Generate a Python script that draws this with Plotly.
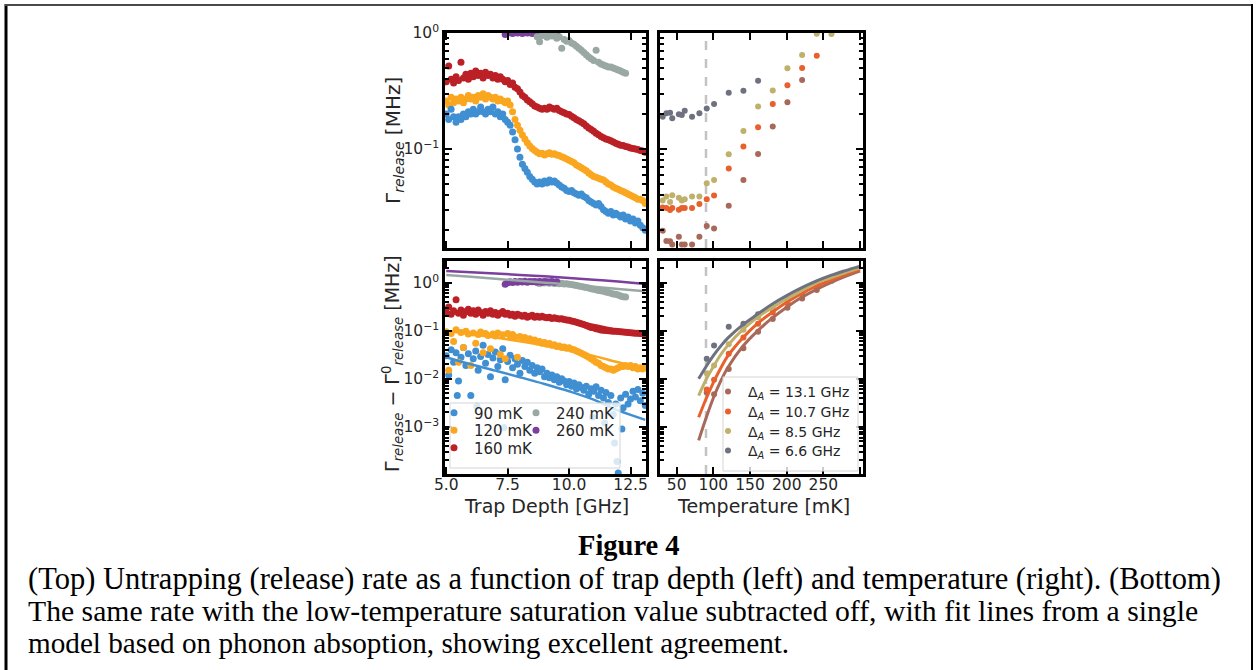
import plotly.graph_objects as go

# ---------------- data ----------------
trap_depth = [5.0, 5.1, 5.2, 5.3, 5.4, 5.5, 5.6, 5.7, 5.8, 5.9,
              6.0, 6.1, 6.2, 6.3, 6.4, 6.5, 6.6, 6.7, 6.8, 6.9,
              7.0, 7.1, 7.2, 7.3, 7.4, 7.5, 7.6, 7.7, 7.8, 7.9,
              8.0, 8.1, 8.2, 8.3, 8.4, 8.5, 8.6, 8.7, 8.8, 8.9,
              9.0, 9.1, 9.2, 9.3, 9.4, 9.5, 9.6, 9.7, 9.8, 9.9,
              10.0, 10.1, 10.2, 10.3, 10.4, 10.5, 10.6, 10.7, 10.8, 10.9,
              11.0, 11.1, 11.2, 11.3, 11.4, 11.5, 11.6, 11.7, 11.8, 11.9,
              12.0, 12.1, 12.2, 12.3, 12.4, 12.5, 12.6, 12.7, 12.8, 12.9,
              13.0, 13.1]

rate_90mK = [0.20, 0.18, 0.22, 0.19, 0.17, 0.19, 0.18, 0.20, 0.19, 0.21,
             0.20, 0.22, 0.20, 0.21, 0.23, 0.21, 0.20, 0.22, 0.21, 0.23,
             0.20, 0.21, 0.19, 0.20, 0.18, 0.17, 0.16, 0.14, 0.12, 0.10,
             0.085, 0.074, 0.068, 0.063, 0.058, 0.055, 0.052, 0.050, 0.052, 0.050,
             0.053, 0.051, 0.054, 0.052, 0.053, 0.051, 0.049, 0.047, 0.046, 0.044,
             0.043, 0.044, 0.042, 0.041, 0.040, 0.041, 0.039, 0.038, 0.036, 0.035,
             0.034, 0.033, 0.034, 0.032, 0.030, 0.029, 0.028, 0.029, 0.027, 0.028,
             0.027, 0.026, 0.027, 0.025, 0.026, 0.024, 0.025, 0.023, 0.024, 0.022,
             0.021, 0.020]

rate_120mK = [0.26, 0.24, 0.28, 0.25, 0.27, 0.26, 0.28, 0.25, 0.27, 0.29,
              0.27, 0.28, 0.26, 0.29, 0.28, 0.30, 0.27, 0.29, 0.28, 0.27,
              0.28, 0.26, 0.27, 0.26, 0.25, 0.26, 0.24, 0.21, 0.18, 0.16,
              0.145, 0.132, 0.122, 0.113, 0.106, 0.101, 0.097, 0.094, 0.091, 0.092,
              0.089, 0.091, 0.093, 0.090, 0.091, 0.089, 0.088, 0.086, 0.084, 0.082,
              0.080, 0.078, 0.076, 0.073, 0.071, 0.069, 0.067, 0.065, 0.062, 0.060,
              0.058, 0.057, 0.056, 0.055, 0.054, 0.052, 0.050, 0.049, 0.047, 0.046,
              0.045, 0.044, 0.043, 0.042, 0.041, 0.040, 0.039, 0.038, 0.037, 0.037,
              0.036, 0.034]

rate_160mK = [0.38, 0.52, 0.40, 0.37, 0.42, 0.39, 0.56, 0.41, 0.44, 0.40,
              0.45, 0.42, 0.47, 0.43, 0.45, 0.41, 0.46, 0.43, 0.44, 0.41,
              0.43, 0.40, 0.42, 0.40, 0.38, 0.39, 0.36, 0.37, 0.34, 0.33,
              0.31, 0.29, 0.28, 0.265, 0.255, 0.245, 0.235, 0.23, 0.225, 0.22,
              0.225, 0.22, 0.23, 0.225, 0.22, 0.225, 0.215, 0.21, 0.205, 0.20,
              0.198, 0.192, 0.186, 0.18, 0.175, 0.17, 0.165, 0.158, 0.152, 0.147,
              0.142, 0.137, 0.133, 0.128, 0.125, 0.122, 0.12, 0.118, 0.115, 0.112,
              0.11, 0.108, 0.107, 0.105, 0.104, 0.102, 0.101, 0.100, 0.099, 0.097,
              0.096, 0.094]

depth_240mK = [8.7, 8.8, 8.9, 9.0, 9.1, 9.2, 9.3, 9.4, 9.5, 9.6, 9.7, 9.8, 9.9,
               10.0, 10.1, 10.2, 10.3, 10.4, 10.5, 10.6, 10.7, 10.8, 10.9,
               11.0, 11.1, 11.2, 11.3, 11.4, 11.5, 11.6, 11.7, 11.8, 11.9,
               12.0, 12.1, 12.2, 12.3]
rate_240mK = [0.93, 0.84, 0.95, 0.97, 0.92, 0.99, 0.94, 0.97, 0.90, 0.93, 0.74, 0.88, 0.85,
              0.86, 0.82, 0.80, 0.77, 0.74, 0.71, 0.68, 0.65, 0.62, 0.60,
              0.58, 0.71, 0.56, 0.54, 0.53, 0.52, 0.51, 0.51, 0.50, 0.49,
              0.48, 0.47, 0.46, 0.45]

depth_260mK = [7.4, 7.5, 7.6, 7.7, 7.8, 7.9, 8.0, 8.1, 8.2, 8.3, 8.4,
               8.5, 8.6, 8.7, 8.8, 8.9, 9.0, 9.1, 9.2, 9.3, 9.4, 9.5]
rate_260mK = [0.97, 1.0, 1.02, 0.99, 1.01, 1.0, 1.03, 0.99, 1.01, 1.0, 1.02,
              0.99, 1.0, 1.01, 0.99, 1.0, 1.02, 0.99, 1.0, 1.01, 0.99, 1.0]

# subtracted rates (bottom-left)
sub_90mK = [0.030, 0.012, 0.040, 0.022, 0.035, 0.009, 0.028, 0.045, 0.019, 0.033,
            0.0045, 0.026, 0.038, 0.015, 0.029, 0.050, 0.021, 0.032, 0.011, 0.027,
            0.036, 0.018, 0.025, 0.042, 0.0095, 0.023, 0.031, 0.017, 0.026, 0.020,
            0.013, 0.024, 0.018, 0.022, 0.015, 0.019, 0.013, 0.017, 0.014, 0.016,
            0.011, 0.013, 0.0105, 0.012, 0.0095, 0.011, 0.0085, 0.0100, 0.0090, 0.0075,
            0.0088, 0.0070, 0.0082, 0.0062, 0.0075, 0.0066, 0.0058, 0.0070, 0.0048, 0.0062,
            0.0055, 0.0068, 0.0045, 0.0058, 0.0040, 0.0052, 0.0032, 0.0045, 0.0018, 0.0030,
            0.00011, 0.0040, 0.0025, 0.0048, 0.0030, 0.0038, 0.0055, 0.0042, 0.0060, 0.0035,
            0.0050, 0.0028]
sub_90mK_extra_depth = [5.45, 6.25, 7.35, 11.85, 11.95, 10.95, 11.45, 12.15]
sub_90mK_extra = [0.0045, 0.0027, 0.00097, 0.00046, 0.00019, 0.0016, 0.0012, 0.0009]

sub_120mK = [0.095, 0.015, 0.088, 0.060, 0.105, 0.022, 0.092, 0.045, 0.098, 0.085,
             0.019, 0.090, 0.055, 0.083, 0.094, 0.035, 0.088, 0.080, 0.042, 0.085,
             0.078, 0.090, 0.032, 0.082, 0.026, 0.088, 0.079, 0.083, 0.074, 0.028,
             0.076, 0.070, 0.072, 0.066, 0.068, 0.062, 0.064, 0.058, 0.060, 0.055,
             0.057, 0.052, 0.054, 0.050, 0.051, 0.047, 0.048, 0.045, 0.046, 0.043,
             0.044, 0.041, 0.040, 0.038, 0.036, 0.034, 0.032, 0.030, 0.028, 0.026,
             0.024, 0.022, 0.021, 0.019, 0.018, 0.017, 0.016, 0.016, 0.015, 0.016,
             0.017, 0.018, 0.018, 0.019, 0.018, 0.019, 0.017, 0.018, 0.016, 0.017,
             0.016, 0.017]

sub_160mK = [0.24, 0.31, 0.22, 0.26, 0.44, 0.23, 0.27, 0.21, 0.25, 0.28,
             0.23, 0.26, 0.22, 0.27, 0.24, 0.21, 0.25, 0.23, 0.26, 0.22,
             0.24, 0.21, 0.23, 0.25, 0.22, 0.23, 0.21, 0.22, 0.20, 0.22,
             0.21, 0.20, 0.21, 0.19, 0.20, 0.21, 0.19, 0.20, 0.19, 0.20,
             0.19, 0.185, 0.19, 0.18, 0.185, 0.18, 0.175, 0.178, 0.172, 0.168,
             0.165, 0.16, 0.155, 0.15, 0.145, 0.14, 0.135, 0.128, 0.122, 0.117,
             0.115, 0.11, 0.107, 0.104, 0.102, 0.101, 0.10, 0.099, 0.098, 0.097,
             0.096, 0.095, 0.094, 0.093, 0.092, 0.091, 0.090, 0.089, 0.089, 0.088,
             0.087, 0.086]

sub_240mK = [1.00, 0.96, 1.03, 0.98, 1.02, 0.97, 1.01, 0.96, 0.99, 0.95, 0.97, 0.94, 0.95,
             0.93, 0.91, 0.89, 0.87, 0.85, 0.83, 0.81, 0.79, 0.77, 0.75,
             0.73, 0.71, 0.69, 0.68, 0.66, 0.64, 0.62, 0.60, 0.58, 0.57,
             0.55, 0.53, 0.51, 0.50]
sub_260mK = [0.93, 1.00, 1.04, 1.01, 1.06, 1.02, 1.05, 1.03, 1.07, 1.02, 1.05,
             1.04, 1.06, 1.03, 1.05, 1.02, 1.06, 1.04, 1.03, 1.05, 1.02, 1.04]

fit_depth = [5.0, 6.0, 7.0, 8.0, 9.0, 10.0, 11.0, 12.0, 13.1]
fit_90mK = [0.028, 0.020, 0.0148, 0.0108, 0.0078, 0.0055, 0.0037, 0.0022, 0.0014]
fit_120mK = [0.10, 0.085, 0.072, 0.060, 0.049, 0.039, 0.030, 0.022, 0.016]
fit_160mK = [0.23, 0.225, 0.218, 0.205, 0.19, 0.165, 0.132, 0.104, 0.086]
fit_240mK = [1.45, 1.32, 1.2, 1.1, 1.0, 0.91, 0.82, 0.74, 0.66]
fit_260mK = [1.75, 1.65, 1.55, 1.45, 1.35, 1.25, 1.15, 1.05, 0.94]

# temperature dependence (right panels)
temperature = [31, 36, 41, 44, 53, 57, 61, 71, 81, 91, 101, 121, 141, 161, 181, 201, 221, 241, 261]
rate_6p6 = [0.19, 0.203, 0.205, 0.184, 0.199, 0.196, 0.214, 0.19, 0.203, 0.224, 0.244, 0.306, 0.318, 0.388]
rate_8p5 = [0.036, 0.039, 0.035, 0.040, 0.038, 0.036, 0.037, 0.039, 0.039, 0.0506, 0.054, 0.09,
            0.143, 0.232, 0.32, 0.496, 0.646, 0.985, 0.98]
rate_10p7 = [0.0314, 0.031, 0.0298, 0.031, 0.030, 0.031, 0.031, 0.031, 0.0336, 0.037, 0.0397,
             0.068, 0.105, 0.154, 0.244, 0.354, 0.50, 0.638]
rate_13p1 = [0.0198, 0.0161, 0.016, 0.015, 0.0175, 0.015, 0.015, 0.015, 0.0175, 0.0217, 0.0207,
             0.0325, 0.054, 0.0905, 0.156, 0.253, 0.394]

temp_sub = [91, 101, 121, 141, 161, 181, 201, 221, 241, 261]
sub_6p6 = [0.026, 0.049, 0.121, 0.14, 0.22]
sub_8p5 = [0.013, 0.019, 0.052, 0.105, 0.19, 0.30, 0.45, 0.66, 0.95, 1.08]
sub_10p7 = [0.0060, 0.0095, 0.033, 0.072, 0.14, 0.24, 0.38, 0.58, 0.82, 1.1]
sub_13p1 = [0.0052, 0.0048, 0.016, 0.043, 0.095, 0.175, 0.30, 0.47, 0.70]

fit_temp = [80, 90, 100, 110, 120, 140, 160, 180, 200, 220, 240, 260, 280, 300]
fit_6p6 = [0.0100, 0.0178, 0.0302, 0.0479, 0.0708, 0.132, 0.219, 0.355, 0.537, 0.776, 1.07, 1.41, 1.78, 2.21]
fit_8p5 = [0.00447, 0.00955, 0.0178, 0.0316, 0.0501, 0.105, 0.191, 0.302, 0.457, 0.676, 0.977, 1.26, 1.62, 2.0]
fit_10p7 = [0.00158, 0.0038, 0.00832, 0.0166, 0.0302, 0.0708, 0.141, 0.240, 0.389, 0.589, 0.841, 1.12, 1.48, 1.91]
fit_13p1 = [0.000525, 0.00151, 0.00398, 0.00891, 0.0174, 0.0468, 0.0977, 0.182, 0.309, 0.490, 0.716, 1.0, 1.35, 1.74]

depth_labels = ["90 mK", "120 mK", "160 mK", "240 mK", "260 mK"]
gap_labels = ["Δ<sub><i>A</i></sub> = 13.1 GHz", "Δ<sub><i>A</i></sub> = 10.7 GHz",
              "Δ<sub><i>A</i></sub> = 8.5 GHz", "Δ<sub><i>A</i></sub> = 6.6 GHz"]
saturation_temp = 90

# ---------------- styling ----------------
W, H = 1259, 670
def px(v):
    return v / W
def py(v):
    return 1 - v / H

C90, C120, C160, C240, C260 = "#3f8fd2", "#faa61f", "#bb2026", "#99a8a3", "#7b3f9e"
C131, C107, C85, C66 = "#a8695a", "#e8602c", "#bfb06a", "#6e7180"
FONT = "DejaVu Sans"
TXT = "#262626"

fig = go.Figure()

def pts(x, y, color, xa, ya, size=7, name=None, legend=None):
    fig.add_trace(go.Scatter(x=x, y=y, mode="markers", xaxis=xa, yaxis=ya,
                             marker=dict(color=color, size=size, line=dict(width=0)),
                             name=name, showlegend=legend is not None,
                             legend=legend if legend else "legend"))

def line(x, y, color, xa, ya, width=2.5):
    fig.add_trace(go.Scatter(x=x, y=y, mode="lines", xaxis=xa, yaxis=ya,
                             line=dict(color=color, width=width, shape="spline"),
                             showlegend=False, hoverinfo="skip"))

# top-left
pts(depth_260mK, rate_260mK, C260, "x", "y")
pts(depth_240mK, rate_240mK, C240, "x", "y")
pts(trap_depth, rate_160mK, C160, "x", "y")
pts(trap_depth, rate_120mK, C120, "x", "y")
pts(trap_depth, rate_90mK, C90, "x", "y")

# top-right
pts(temperature[:len(rate_6p6)], rate_6p6, C66, "x2", "y2", size=6)
pts(temperature[:len(rate_8p5)], rate_8p5, C85, "x2", "y2", size=6)
pts(temperature[:len(rate_10p7)], rate_10p7, C107, "x2", "y2", size=6)
pts(temperature[:len(rate_13p1)], rate_13p1, C131, "x2", "y2", size=6)

# bottom-left
pts(trap_depth + sub_90mK_extra_depth, sub_90mK + sub_90mK_extra, C90, "x3", "y3", name=depth_labels[0], legend="legend")
pts(trap_depth, sub_120mK, C120, "x3", "y3", name=depth_labels[1], legend="legend2")
pts(trap_depth, sub_160mK, C160, "x3", "y3", name=depth_labels[2], legend="legend3")
pts(depth_240mK, sub_240mK, C240, "x3", "y3", name=depth_labels[3], legend="legend4")
pts(depth_260mK, sub_260mK, C260, "x3", "y3", name=depth_labels[4], legend="legend5")
line(fit_depth, fit_90mK, C90, "x3", "y3")
line(fit_depth, fit_120mK, C120, "x3", "y3")
line(fit_depth, fit_160mK, C160, "x3", "y3")
line(fit_depth, fit_240mK, C240, "x3", "y3")
line(fit_depth, fit_260mK, C260, "x3", "y3")

# bottom-right
pts(temp_sub[:len(sub_13p1)], sub_13p1, C131, "x4", "y4", size=6, name=gap_labels[0], legend="legend6")
pts(temp_sub[:len(sub_10p7)], sub_10p7, C107, "x4", "y4", size=6, name=gap_labels[1], legend="legend7")
pts(temp_sub[:len(sub_8p5)], sub_8p5, C85, "x4", "y4", size=6, name=gap_labels[2], legend="legend8")
pts(temp_sub[:len(sub_6p6)], sub_6p6, C66, "x4", "y4", size=6, name=gap_labels[3], legend="legend9")
line(fit_temp, fit_13p1, C131, "x4", "y4", width=3)
line(fit_temp, fit_10p7, C107, "x4", "y4", width=3)
line(fit_temp, fit_8p5, C85, "x4", "y4", width=3)
line(fit_temp, fit_6p6, C66, "x4", "y4", width=3)

common = dict(showline=True, linecolor="black", linewidth=2.5, mirror="ticks",
              ticks="inside", ticklen=7, tickwidth=2, tickcolor="black",
              showgrid=False, zeroline=False, automargin=False,
              tickfont=dict(family=FONT, size=15.5, color=TXT))
xcommon = dict(common, ticklabelstandoff=-5)

minor_top = [0.02, 0.03, 0.04, 0.05, 0.06, 0.07, 0.08, 0.09,
             0.2, 0.3, 0.4, 0.5, 0.6, 0.7, 0.8, 0.9]
minor_bot = [2e-4, 3e-4, 4e-4, 5e-4, 6e-4, 7e-4, 8e-4, 9e-4,
             2e-3, 3e-3, 4e-3, 5e-3, 6e-3, 7e-3, 8e-3, 9e-3] + minor_top + [2]
def minor(vals):
    return dict(ticks="inside", ticklen=4, tickwidth=1.5, tickcolor="black",
                tickmode="array", tickvals=vals, showgrid=False)

xl = [px(445), px(646)]
xr = [px(660), px(863)]
yt = [py(248), py(33)]
yb = [py(474), py(261)]

depth_ticks = [5, 7.5, 10, 12.5]
temp_ticks = [50, 100, 150, 200, 250, 300]

layout = dict(
    width=W, height=H, autosize=False,
    margin=dict(l=0, r=0, t=0, b=0, pad=0, autoexpand=False),
    paper_bgcolor="white", plot_bgcolor="white",
    xaxis=dict(xcommon, domain=xl, anchor="y", range=[4.95, 13.13],
               tickvals=depth_ticks, showticklabels=False),
    yaxis=dict(common, domain=yt, anchor="x", type="log", range=[-1.853, 0],
               tickvals=[0.1, 1], ticktext=["10<sup>−1</sup>", "10<sup>0</sup>"],
               minor=minor(minor_top)),
    xaxis2=dict(xcommon, domain=xr, anchor="y2", range=[27.3, 304],
                tickvals=temp_ticks, showticklabels=False),
    yaxis2=dict(common, domain=yt, anchor="x2", type="log", range=[-1.853, 0],
                tickvals=[0.1, 1], showticklabels=False, minor=minor(minor_top)),
    xaxis3=dict(xcommon, domain=xl, anchor="y3", range=[4.95, 13.13],
                tickvals=depth_ticks, ticktext=["5.0", "7.5", "10.0", "12.5"]),
    yaxis3=dict(common, domain=yb, anchor="x3", type="log", range=[-3.98, 0.45],
                tickvals=[0.001, 0.01, 0.1, 1],
                ticktext=["10<sup>−3</sup>", "10<sup>−2</sup>", "10<sup>−1</sup>", "10<sup>0</sup>"],
                minor=minor(minor_bot)),
    xaxis4=dict(xcommon, domain=xr, anchor="y4", range=[27.3, 304],
                tickvals=temp_ticks, ticktext=["50", "100", "150", "200", "250", ""]),
    yaxis4=dict(common, domain=yb, anchor="x4", type="log", range=[-3.98, 0.45],
                tickvals=[0.001, 0.01, 0.1, 1], showticklabels=False, minor=minor(minor_bot)),
)

# one legend per row so the rows sit where the reference has them
legend_rows = [(434, 413, 15), (434, 430.5, 15), (434, 448, 15), (516, 413, 15), (516, 430.5, 15),
               (708, 392, 14), (708, 412, 14), (708, 431.5, 14), (708, 451, 14)]
for i, (lx, ly, fs) in enumerate(legend_rows):
    key = "legend" if i == 0 else "legend%d" % (i + 1)
    layout[key] = dict(x=px(lx), y=py(ly), xanchor="left", yanchor="middle",
                       bgcolor="rgba(0,0,0,0)", borderwidth=0, itemwidth=30,
                       font=dict(family=FONT, size=fs, color=TXT))
fig.update_layout(**layout)

shapes = []
for xa, ya in (("x2", "y2"), ("x4", "y4")):
    shapes.append(dict(type="line", xref=xa, yref=ya + " domain", x0=saturation_temp, x1=saturation_temp,
                       y0=0, y1=1, line=dict(color="#c3c3c3", width=2.5, dash="dash"), layer="below"))
# legend frames
shapes.append(dict(type="rect", xref="paper", yref="paper", x0=px(450), x1=px(620), y0=py(468), y1=py(403),
                   fillcolor="rgba(255,255,255,0.8)", line=dict(color="#d4d4d4", width=1), layer="above"))
shapes.append(dict(type="rect", xref="paper", yref="paper", x0=px(723), x1=px(858), y0=py(471), y1=py(377),
                   fillcolor="rgba(255,255,255,0.8)", line=dict(color="#d4d4d4", width=1), layer="above"))
# page border
shapes.append(dict(type="line", xref="paper", yref="paper", x0=px(6), x1=px(6), y0=py(4), y1=0,
                   line=dict(color="black", width=3)))
shapes.append(dict(type="line", xref="paper", yref="paper", x0=px(5), x1=px(1253), y0=py(5), y1=py(5),
                   line=dict(color="#4a4a4a", width=2)))
shapes.append(dict(type="line", xref="paper", yref="paper", x0=px(1252), x1=px(1252), y0=py(4), y1=0,
                   line=dict(color="black", width=2)))
fig.update_layout(shapes=shapes)

ann = []
def text(x, y, s, size, angle=0, xanchor="center", family=FONT, color=TXT):
    ann.append(dict(x=px(x), y=py(y), xref="paper", yref="paper", text=s, showarrow=False,
                    textangle=angle, xanchor=xanchor, yanchor="middle",
                    font=dict(family=family, size=size, color=color)))

text(394, 141, "Γ<sub><i>release</i></sub> [MHz]", 20, angle=-90)
text(393, 364, "Γ<sub><i>release</i></sub> − Γ<sup>0</sup><sub><i>release</i></sub> [MHz]", 19, angle=-90)
text(546, 506, "Trap Depth [GHz]", 19)
text(763, 506, "Temperature [mK]", 19)

SERIF = "Liberation Serif"
text(629, 545, "<b>Figure 4</b>", 28.5, family=SERIF, color="black")
caption = ["(Top) Untrapping (release) rate as a function of trap depth (left) and temperature (right). (Bottom)",
           "The same rate with the low-temperature saturation value subtracted off, with fit lines from a single",
           "model based on phonon absoption, showing excellent agreement."]
for s, yy, fs in zip(caption, [579, 611, 643], [30.5, 29.7, 29.2]):
    text(26, yy, s, fs, xanchor="left", family=SERIF, color="black")
fig.update_layout(annotations=ann)

fig.write_html("out.html", config={"displayModeBar": False},
               post_script="document.body.style.margin='0';document.body.style.overflow='hidden';")
